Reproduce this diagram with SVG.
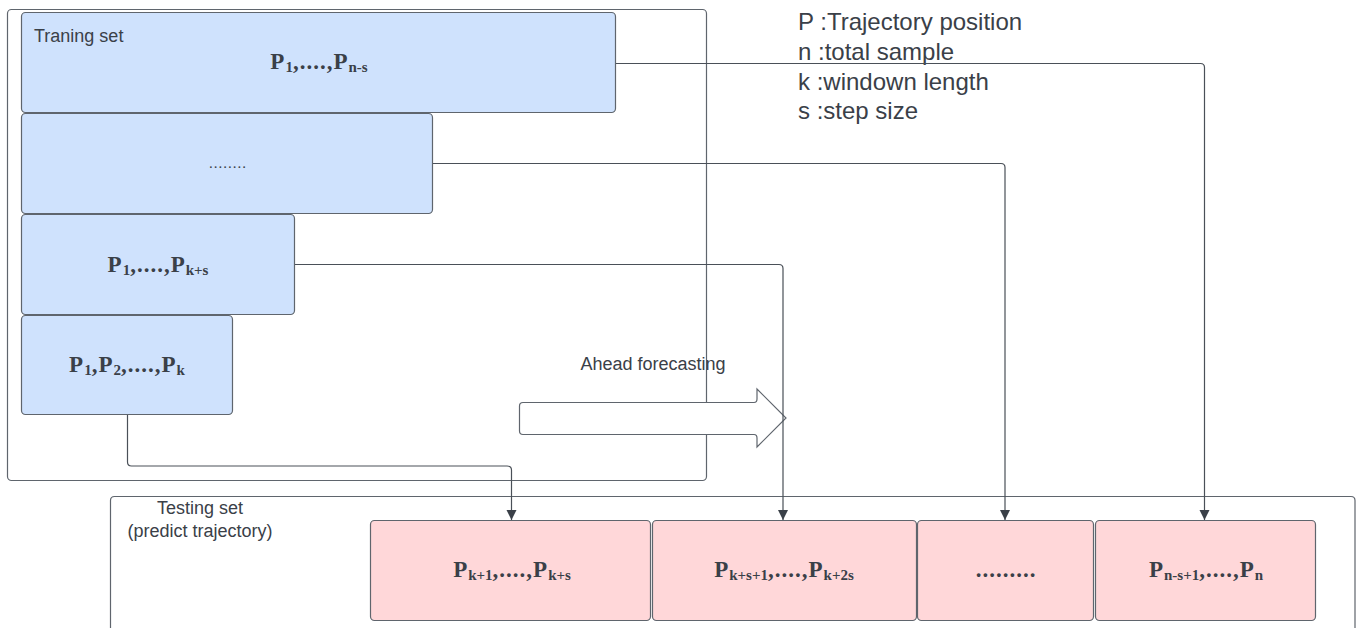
<svg xmlns="http://www.w3.org/2000/svg" width="1367" height="628" viewBox="0 0 1367 628">
<style>
.frame{fill:#ffffff;stroke:#5f656d;stroke-width:1.2}
.train{fill:#cfe2fd;stroke:#5f656d;stroke-width:1.2}
.test{fill:#ffd7d9;stroke:#5f656d;stroke-width:1.2}
.lbl{font-family:"Liberation Sans",Arial,sans-serif;fill:#3a4048}
.math{font-family:"Liberation Serif","Times New Roman",serif;font-weight:bold;fill:#3a4048;font-size:23px;letter-spacing:1px;text-anchor:middle}
.sub{font-size:15px;letter-spacing:0}
.dots{font-family:"Liberation Serif","Times New Roman",serif;fill:#3a4048;font-size:15px;letter-spacing:1px;text-anchor:middle}
.conn{fill:none;stroke:#4a5058;stroke-width:1.2}
</style>
<defs>
<marker id="ah" markerWidth="10" markerHeight="12" refX="10" refY="6" orient="auto" markerUnits="userSpaceOnUse">
<path d="M0,1 L10,6 L0,11 Z" fill="#3a4048"/>
</marker>
</defs>
<g id="training-container">
<rect class="frame" x="7.5" y="9.5" width="699" height="471" rx="4"/>
</g>
<g id="testing-container">
<path class="frame" d="M110.5,640 V500.5 Q110.5,496.5 114.5,496.5 H1351 Q1355,496.5 1355,500.5 V640"/>
<text class="lbl" x="200" y="514" font-size="18" text-anchor="middle">Testing set</text>
<text class="lbl" x="200" y="537" font-size="18" text-anchor="middle">(predict trajectory)</text>
</g>
<g id="train-1">
<rect class="train" x="21.5" y="12.5" width="594" height="100" rx="4"/>
<text class="lbl" x="34" y="42" font-size="18">Traning set</text>
<text class="math" x="319" y="69">P<tspan class="sub" dy="3">1</tspan><tspan dy="-3">,....,P</tspan><tspan class="sub" dy="3">n-s</tspan></text>
</g>
<g id="train-2">
<rect class="train" x="21.5" y="113.5" width="411" height="100" rx="4"/>
<text class="dots" x="228" y="168">........</text>
</g>
<g id="train-3">
<rect class="train" x="21.5" y="214.5" width="273" height="100" rx="4"/>
<text class="math" x="158" y="272">P<tspan class="sub" dy="3">1</tspan><tspan dy="-3">,....,P</tspan><tspan class="sub" dy="3">k+s</tspan></text>
</g>
<g id="train-4">
<rect class="train" x="21.5" y="315.5" width="211" height="99" rx="4"/>
<text class="math" x="127" y="372">P<tspan class="sub" dy="3">1</tspan><tspan dy="-3">,P</tspan><tspan class="sub" dy="3">2</tspan><tspan dy="-3">,....,P</tspan><tspan class="sub" dy="3">k</tspan></text>
</g>
<g id="legend">
<text class="lbl" x="798" y="30" font-size="24">P :Trajectory position</text>
<text class="lbl" x="798" y="60" font-size="24">n :total sample</text>
<text class="lbl" x="798" y="90" font-size="24">k :windown length</text>
<text class="lbl" x="798" y="119" font-size="24">s :step size</text>
</g>
<g id="ahead-forecasting">
<text class="lbl" x="653" y="370" font-size="18" text-anchor="middle">Ahead forecasting</text>
<path class="frame" d="M523,402.5 H754 Q757,402.5 757,399 V389 L786,418 L757,447 V438 Q757,434.5 754,434.5 H523 Q519.5,434.5 519.5,431 V406 Q519.5,402.5 523,402.5 Z"/>
</g>
<g id="connectors">
<path class="conn" d="M616,63.5 H1200.5 Q1204.5,63.5 1204.5,67.5 V520" marker-end="url(#ah)"/>
<path class="conn" d="M433,163.5 H1001 Q1005,163.5 1005,167.5 V520" marker-end="url(#ah)"/>
<path class="conn" d="M295,264.5 H779 Q783,264.5 783,268.5 V520" marker-end="url(#ah)"/>
<path class="conn" d="M127.5,415 V462 Q127.5,466 131.5,466 H507 Q511.5,466 511.5,470 V520" marker-end="url(#ah)"/>
</g>
<g id="test-1">
<rect class="test" x="370.5" y="520.5" width="280" height="100" rx="4"/>
<text class="math" x="512" y="577">P<tspan class="sub" dy="3">k+1</tspan><tspan dy="-3">,....,P</tspan><tspan class="sub" dy="3">k+s</tspan></text>
</g>
<g id="test-2">
<rect class="test" x="652.5" y="520.5" width="264" height="100" rx="4"/>
<text class="math" x="784" y="577">P<tspan class="sub" dy="3">k+s+1</tspan><tspan dy="-3">,....,P</tspan><tspan class="sub" dy="3">k+2s</tspan></text>
</g>
<g id="test-3">
<rect class="test" x="917.5" y="520.5" width="176" height="100" rx="4"/>
<text class="math" x="1006" y="577">.........</text>
</g>
<g id="test-4">
<rect class="test" x="1095.5" y="520.5" width="220" height="100" rx="4"/>
<text class="math" x="1206" y="577">P<tspan class="sub" dy="3">n-s+1</tspan><tspan dy="-3">,....,P</tspan><tspan class="sub" dy="3">n</tspan></text>
</g>
</svg>
